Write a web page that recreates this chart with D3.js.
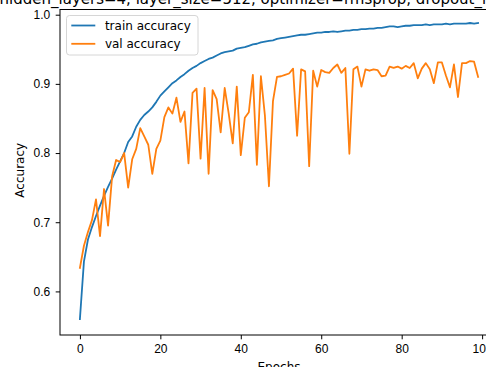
<!DOCTYPE html>
<html>
<head>
<meta charset="utf-8">
<script src="https://cdn.jsdelivr.net/npm/d3@7"></script>
<style>
  body { margin: 0; background: #fff; }
  svg { display: block; font-family: "DejaVu Sans", sans-serif; }
  .axis line { stroke: #000; stroke-width: 1; }
  .axis text { font-size: 12px; fill: #000; }
</style>
</head>
<body>
<svg id="chart"></svg>
<script>
// values
const epochs = d3.range(0, 100);

const trainAcc = [
  0.560, 0.643, 0.675, 0.693, 0.709, 0.724, 0.738, 0.751, 0.763, 0.776,
  0.788, 0.800, 0.816, 0.824, 0.838, 0.848, 0.855, 0.860, 0.866, 0.874,
  0.883, 0.889, 0.895, 0.901, 0.905, 0.910, 0.914, 0.919, 0.923, 0.926,
  0.930, 0.933, 0.936, 0.938, 0.941, 0.944, 0.946, 0.947, 0.948, 0.951,
  0.952, 0.953, 0.955, 0.957, 0.958, 0.960, 0.961, 0.962, 0.963, 0.965,
  0.966, 0.967, 0.968, 0.969, 0.970, 0.971, 0.971, 0.972, 0.973, 0.974,
  0.974, 0.975, 0.975, 0.976, 0.975, 0.976, 0.977, 0.977, 0.978, 0.978,
  0.979, 0.979, 0.980, 0.980, 0.981, 0.981, 0.982, 0.983, 0.983, 0.982,
  0.983, 0.984, 0.984, 0.985, 0.985, 0.985, 0.986, 0.985, 0.986, 0.986,
  0.986, 0.987, 0.986, 0.987, 0.987, 0.987, 0.987, 0.988, 0.987, 0.988
];

const valAcc = [
  0.634, 0.666, 0.686, 0.703, 0.733, 0.680, 0.748, 0.695, 0.766, 0.790,
  0.787, 0.800, 0.750, 0.791, 0.806, 0.836, 0.824, 0.812, 0.770, 0.806,
  0.818, 0.852, 0.866, 0.857, 0.880, 0.845, 0.860, 0.785, 0.887, 0.893,
  0.792, 0.894, 0.770, 0.891, 0.878, 0.830, 0.894, 0.857, 0.814, 0.896,
  0.797, 0.851, 0.859, 0.913, 0.783, 0.911, 0.854, 0.752, 0.875, 0.910,
  0.911, 0.913, 0.915, 0.922, 0.825, 0.921, 0.918, 0.781, 0.919, 0.896,
  0.920, 0.917, 0.916, 0.923, 0.928, 0.916, 0.923, 0.799, 0.921, 0.925,
  0.896, 0.921, 0.919, 0.921, 0.920, 0.911, 0.912, 0.925, 0.923, 0.925,
  0.922, 0.926, 0.923, 0.930, 0.908, 0.922, 0.930, 0.921, 0.901, 0.931,
  0.931, 0.912, 0.895, 0.928, 0.881, 0.930, 0.930, 0.933, 0.932, 0.910
];

const xTicks = [0, 20, 40, 60, 80, 100];
const yTicks = [0.6, 0.7, 0.8, 0.9, 1.0];

// the title is cut by the top and both sides of the picture
const title = 'hidden_layers=4, layer_size=512, optimizer=rmsprop, dropout_rate=0.25';

const series = [
  {name: 'train accuracy', values: trainAcc, color: '#1f77b4'},
  {name: 'val accuracy', values: valAcc, color: '#ff7f0e'}
];

// figure size and axes box (the right edge runs past the picture)
const width = 486;
const height = 367;
const box = {left: 60, right: 498, top: 9.5, bottom: 335};

const svg = d3.select('#chart')
  .attr('width', width)
  .attr('height', height);

// matplotlib-like margins around the data
const x = d3.scaleLinear()
  .domain([-4.95, 103.95])
  .range([box.left, box.right]);

const y = d3.scaleLinear()
  .domain([0.537, 1.0075])
  .range([box.bottom, box.top]);

const line = d3.line()
  .x((d, i) => x(epochs[i]))
  .y(d => y(d));

svg.append('clipPath').attr('id', 'plot-clip')
  .append('rect')
  .attr('x', box.left)
  .attr('y', box.top)
  .attr('width', box.right - box.left)
  .attr('height', box.bottom - box.top);

svg.append('g')
  .attr('clip-path', 'url(#plot-clip)')
  .selectAll('path')
  .data(series)
  .join('path')
    .attr('d', d => line(d.values))
    .attr('fill', 'none')
    .attr('stroke', d => d.color)
    .attr('stroke-width', 1.8)
    .attr('stroke-linejoin', 'round')
    .attr('stroke-linecap', 'square');

// axes
const xAxis = d3.axisBottom(x)
  .tickValues(xTicks)
  .tickFormat(d3.format('d'))
  .tickSize(4.3)
  .tickPadding(5.5);

const yAxis = d3.axisLeft(y)
  .tickValues(yTicks)
  .tickFormat(d3.format('.1f'))
  .tickSize(4.3)
  .tickPadding(5.5);

svg.append('g')
  .attr('class', 'x axis')
  .attr('transform', `translate(0,${box.bottom})`)
  .call(xAxis)
  .call(g => g.select('.domain').remove());

svg.append('g')
  .attr('class', 'y axis')
  .attr('transform', `translate(${box.left},0)`)
  .call(yAxis)
  .call(g => g.select('.domain').remove());

// spines
svg.append('rect')
  .attr('x', box.left)
  .attr('y', box.top)
  .attr('width', box.right - box.left)
  .attr('height', box.bottom - box.top)
  .attr('fill', 'none')
  .attr('stroke', '#000')
  .attr('stroke-width', 1);

// labels
svg.append('text')
  .attr('x', (box.left + box.right) / 2)
  .attr('y', 4)
  .attr('text-anchor', 'middle')
  .attr('font-size', 15)
  .text(title);

svg.append('text')
  .attr('x', (box.left + box.right) / 2)
  .attr('y', 371)
  .attr('text-anchor', 'middle')
  .attr('font-size', 12)
  .text('Epochs');

svg.append('text')
  .attr('transform', `translate(24,${(box.top + box.bottom) / 2 - 2}) rotate(-90)`)
  .attr('text-anchor', 'middle')
  .attr('font-size', 12)
  .text('Accuracy');

// legend
const legend = svg.append('g').attr('transform', 'translate(66.5,15.5)');

legend.append('rect')
  .attr('width', 131.5)
  .attr('height', 39.5)
  .attr('rx', 3)
  .attr('fill', '#fff')
  .attr('fill-opacity', 0.8)
  .attr('stroke', '#d6d6d6');

const item = legend.selectAll('g.item')
  .data(series)
  .join('g')
    .attr('class', 'item')
    .attr('transform', (d, i) => `translate(0,${10 + i * 18.3})`);

item.append('line')
  .attr('x1', 4.8)
  .attr('x2', 28.8)
  .attr('stroke', d => d.color)
  .attr('stroke-width', 1.8);

item.append('text')
  .attr('x', 38.4)
  .attr('dy', '0.35em')
  .attr('font-size', 12)
  .text(d => d.name);
</script>
</body>
</html>
